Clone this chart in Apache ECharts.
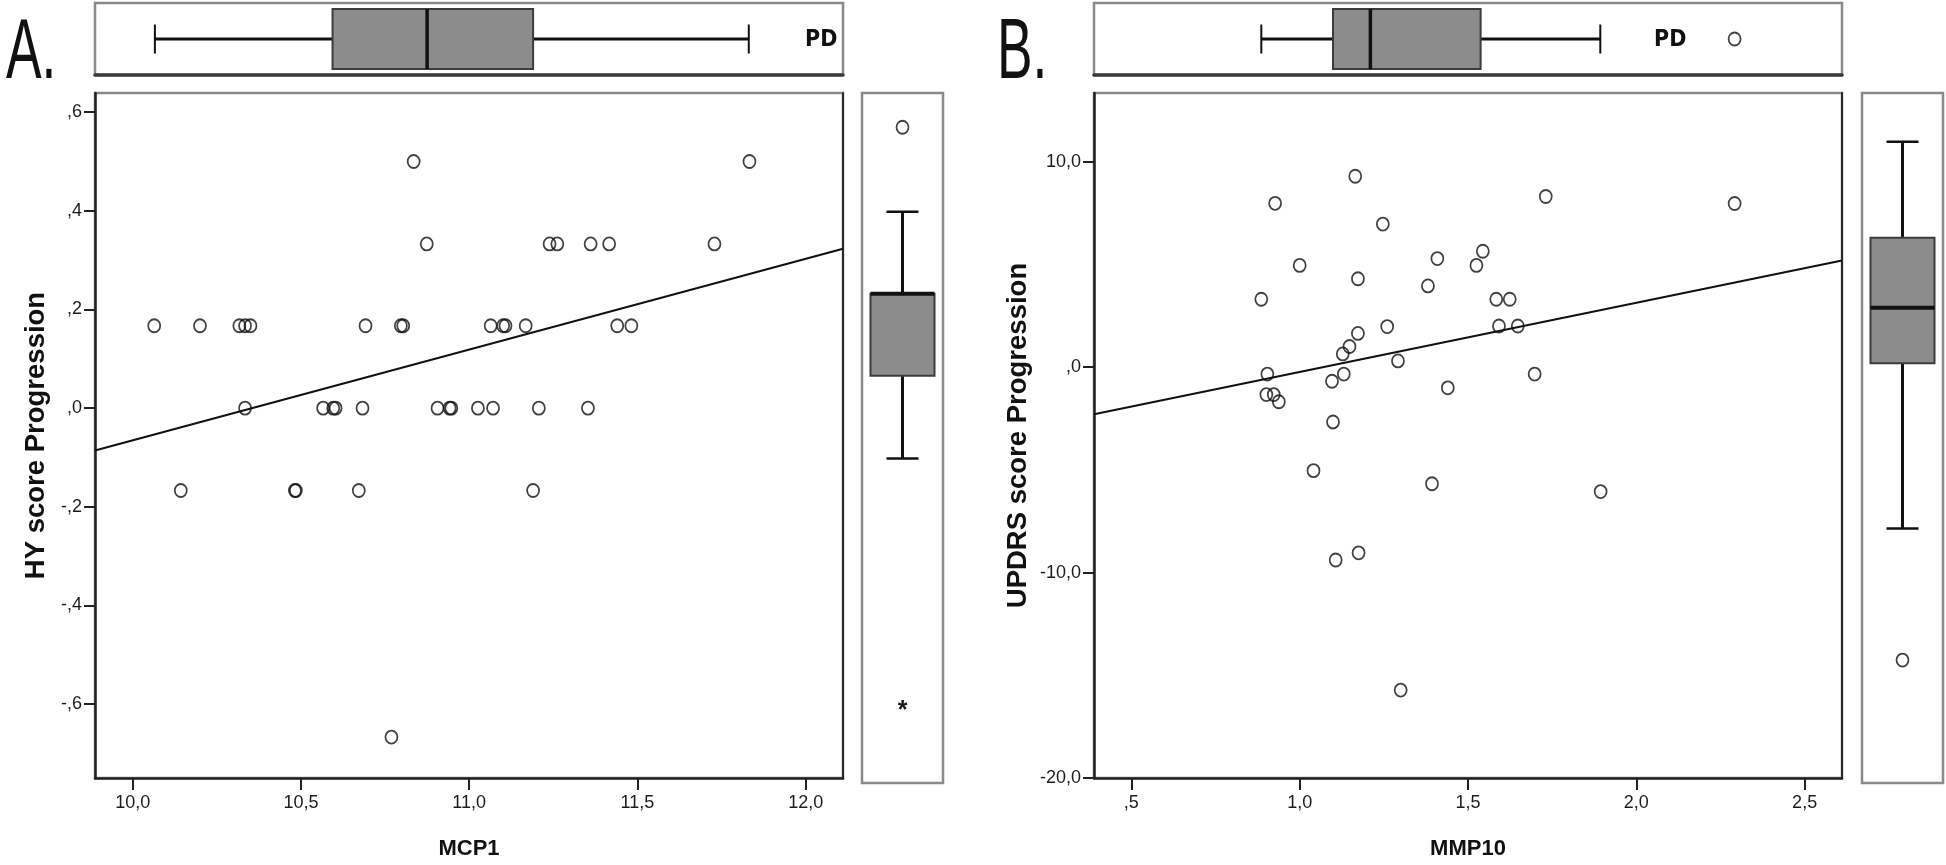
<!DOCTYPE html>
<html><head><meta charset="utf-8">
<script src="https://cdn.jsdelivr.net/npm/echarts@6/dist/echarts.min.js"></script>
<style>html,body{margin:0;padding:0;background:#fff}#c{width:1946px;height:865px}</style>
</head><body><div id="c"></div>
<script>
// ---------- data ----------
// Panel A: MCP1 vs HY score Progression
const mcp1 = [10.064,10.200,10.317,10.334,10.350,10.692,10.797,10.804,11.064,11.101,11.108,11.168,11.440,11.482,
              10.334,10.566,10.596,10.603,10.683,10.906,10.942,10.947,11.026,11.071,11.207,11.353,
              10.874,11.239,11.262,11.361,11.416,11.729,
              10.835,11.833,
              10.143,10.482,10.485,10.672,11.190,
              10.769];
const hyProgression = [0.167,0.167,0.167,0.167,0.167,0.167,0.167,0.167,0.167,0.167,0.167,0.167,0.167,0.167,
              0,0,0,0,0,0,0,0,0,0,0,0,
              0.333,0.333,0.333,0.333,0.333,0.333,
              0.5,0.5,
              -0.167,-0.167,-0.167,-0.167,-0.167,
              -0.667];
const fitA = [[9.888,-0.086],[12.111,0.323]];
const boxMcp1 = [10.066,10.594,10.875,11.190,11.831];
const boxHy = [-0.097,0.070,0.235,0.235,0.400];
const hyOutliers = [0.57];
const hyExtremes = [-0.60];

// Panel B: MMP10 vs UPDRS score Progression
const mmp10 = [1.165,0.927,1.247,1.000,1.409,1.525,1.544,1.173,1.381,0.886,1.584,1.624,1.260,1.592,1.648,1.173,
               1.148,1.128,1.292,0.904,1.131,1.698,1.096,0.901,0.923,0.938,1.440,1.099,1.041,1.393,1.894,1.107,
               1.175,1.300,1.731,2.292];
const updrsProgression = [9.29,7.97,6.96,4.95,5.28,4.95,5.64,4.30,3.95,3.30,3.30,3.30,1.97,2.00,2.00,1.64,
               1.00,0.64,0.30,-0.34,-0.34,-0.34,-0.69,-1.34,-1.34,-1.69,-1.01,-2.67,-5.04,-5.68,-6.06,-9.39,
               -9.04,-15.72,8.30,7.96];
const fitB = [[0.389,-2.30],[2.611,5.19]];
const boxMmp10 = [0.886,1.099,1.210,1.5375,1.893];
const mmp10Outliers = [2.292];
const boxUpdrs = [-7.70,0.28,2.96,6.35,10.99];
const updrsOutliers = [-14.06];

// axes
const rangeMcp1 = [9.888,12.111], rangeHy = [-0.75,0.639];
const rangeMmp10 = [0.389,2.611], rangeUpdrs = [-20,13.34];
const ticksMcp1 = [10,10.5,11,11.5,12];
const ticksHy = [-0.6,-0.4,-0.2,0,0.2,0.4,0.6];
const ticksMmp10 = [0.5,1,1.5,2,2.5];
const ticksUpdrs = [-20,-10,0,10];
const panelLabels = ['A.','B.'];
const groupLabel = 'PD';

// ---------- helpers ----------
function spss(v){
  let s = Math.abs(v).toFixed(1).replace('.',',');
  if (s.startsWith('0,')) s = s.slice(1);
  return (v < 0 ? '-' : '') + s;
}
const FONT = '"Liberation Sans", Arial, sans-serif';
const INK = '#111';
const LBL = '#1c1c1c';

function valueAxis(gi, range, ticks, extra){
  return Object.assign({
    type:'value', gridIndex:gi, min:range[0], max:range[1],
    axisLine:{show:true, onZero:false, lineStyle:{color:'#222', width:2.5}},
    axisTick:{show:true, customValues:ticks, length:11, lineStyle:{color:'#222', width:2}},
    axisLabel:{show:true, customValues:ticks, formatter:spss, color:LBL, fontSize:18, fontFamily:FONT, margin:13},
    splitLine:{show:false}
  }, extra||{});
}
function hiddenAxis(gi, range, extra){
  return Object.assign({
    type:'value', gridIndex:gi, min:range[0], max:range[1],
    axisLine:{show:false}, axisTick:{show:false}, axisLabel:{show:false}, splitLine:{show:false}
  }, extra||{});
}

function hBox(params, api){
  const v = [0,1,2,3,4].map(i => api.value(i));
  const p = v.map(x => api.coord([x, 0.5]));
  const cy = p[0][1], bh = 30, ch = 14.5;
  const wl = {stroke:INK, lineWidth:3};
  return {type:'group', children:[
    {type:'line', shape:{x1:p[0][0],y1:cy,x2:p[1][0],y2:cy}, style:wl},
    {type:'line', shape:{x1:p[3][0],y1:cy,x2:p[4][0],y2:cy}, style:wl},
    {type:'line', shape:{x1:p[0][0],y1:cy-ch,x2:p[0][0],y2:cy+ch}, style:{stroke:INK,lineWidth:2}},
    {type:'line', shape:{x1:p[4][0],y1:cy-ch,x2:p[4][0],y2:cy+ch}, style:{stroke:INK,lineWidth:2}},
    {type:'rect', shape:{x:p[1][0], y:cy-bh, width:p[3][0]-p[1][0], height:2*bh}, style:{fill:'#8c8c8c', stroke:'#3c3c3c', lineWidth:2}},
    {type:'line', shape:{x1:p[2][0],y1:cy-bh,x2:p[2][0],y2:cy+bh}, style:{stroke:INK,lineWidth:3.5}}
  ]};
}
function vBox(params, api){
  const v = [0,1,2,3,4].map(i => api.value(i));
  const p = v.map(y => api.coord([0.5, y]));
  const cx = p[0][0], bw = 32, cw = 16;
  const wl = {stroke:INK, lineWidth:3};
  return {type:'group', children:[
    {type:'line', shape:{x1:cx,y1:p[0][1],x2:cx,y2:p[1][1]}, style:wl},
    {type:'line', shape:{x1:cx,y1:p[3][1],x2:cx,y2:p[4][1]}, style:wl},
    {type:'line', shape:{x1:cx-cw,y1:p[0][1],x2:cx+cw,y2:p[0][1]}, style:{stroke:INK,lineWidth:2.5}},
    {type:'line', shape:{x1:cx-cw,y1:p[4][1],x2:cx+cw,y2:p[4][1]}, style:{stroke:INK,lineWidth:2.5}},
    {type:'rect', shape:{x:cx-bw, y:p[3][1], width:2*bw, height:p[1][1]-p[3][1]}, style:{fill:'#8c8c8c', stroke:'#3c3c3c', lineWidth:2}},
    {type:'line', shape:{x1:cx-bw,y1:p[2][1],x2:cx+bw,y2:p[2][1]}, style:{stroke:INK,lineWidth:4}}
  ]};
}
function starItem(params, api){
  const p = api.coord([api.value(0), api.value(1)]);
  return {type:'text', x:p[0], y:p[1] + 3, style:{text:'*', fill:'#1a1a1a', font:'bold 25px ' + FONT, align:'center', verticalAlign:'middle'}};
}

const circleStyle = {color:'rgba(0,0,0,0)', borderColor:INK, borderWidth:1.8};
function scatter(xi, yi, data){
  return {type:'scatter', xAxisIndex:xi, yAxisIndex:yi, data:data, symbol:'circle', symbolSize:[12,13],
          itemStyle:circleStyle, emphasis:{disabled:true}, silent:true, z:5};
}

const grids = [
  {left:95,  top:93, width:748, height:690},   // A main
  {left:95,  top:3,  width:748, height:72},    // A top box
  {left:862, top:93, width:81,  height:690},   // A right box
  {left:1094,top:93, width:748, height:690},   // B main
  {left:1094,top:3,  width:748, height:72},    // B top box
  {left:1862,top:93, width:81,  height:690}    // B right box
].map(g => Object.assign({show:true, borderColor:'#8a8a8a', borderWidth:2.5, backgroundColor:'#fff'}, g));

const nameStyle = {fontWeight:'bold', fontSize:22, color:INK, fontFamily:FONT};
const yNameStyle = {fontWeight:'bold', fontSize:27.5, color:INK, fontFamily:FONT};
const xLabel = ticks => ({customValues:ticks, formatter:spss, color:LBL, fontSize:18, fontFamily:FONT, margin:16});
const xTick = ticks => ({customValues:ticks, length:12, lineStyle:{color:'#222', width:2}});

const option = {
  animation:false,
  backgroundColor:'#fff',
  grid: grids,
  xAxis: [
    valueAxis(0, rangeMcp1, ticksMcp1, {name:'MCP1', nameLocation:'middle', nameGap:60, nameTextStyle:nameStyle, axisLabel:xLabel(ticksMcp1), axisTick:xTick(ticksMcp1)}),
    hiddenAxis(1, rangeMcp1, {axisLine:{show:true, lineStyle:{color:'#3a3a3a', width:3.5}}}),
    hiddenAxis(2, [0,1]),
    valueAxis(3, rangeMmp10, ticksMmp10, {name:'MMP10', nameLocation:'middle', nameGap:60, nameTextStyle:nameStyle, axisLabel:xLabel(ticksMmp10), axisTick:xTick(ticksMmp10)}),
    hiddenAxis(4, rangeMmp10, {axisLine:{show:true, lineStyle:{color:'#3a3a3a', width:3.5}}}),
    hiddenAxis(5, [0,1])
  ],
  yAxis: [
    valueAxis(0, rangeHy, ticksHy, {name:'HY score Progression', nameLocation:'middle', nameGap:45, nameTextStyle:yNameStyle}),
    hiddenAxis(1, [0,1]),
    hiddenAxis(2, rangeHy),
    valueAxis(3, rangeUpdrs, ticksUpdrs, {name:'UPDRS score Progression', nameLocation:'middle', nameGap:62, nameTextStyle:yNameStyle}),
    hiddenAxis(4, [0,1]),
    hiddenAxis(5, rangeUpdrs),
    hiddenAxis(0, rangeHy, {position:'right', axisLine:{show:true, lineStyle:{color:'#2a2a2a', width:2}}}),
    hiddenAxis(3, rangeUpdrs, {position:'right', axisLine:{show:true, lineStyle:{color:'#2a2a2a', width:2}}})
  ],
  series: [
    scatter(0, 0, mcp1.map((x,i) => [x, hyProgression[i]])),
    {type:'line', xAxisIndex:0, yAxisIndex:0, data:fitA, showSymbol:false, lineStyle:{color:INK, width:2}, silent:true, z:4},
    {type:'custom', xAxisIndex:1, yAxisIndex:1, data:[boxMcp1], renderItem:hBox, silent:true},
    {type:'custom', xAxisIndex:2, yAxisIndex:2, data:[boxHy], renderItem:vBox, silent:true,
      encode:{x:[], y:[0,1,2,3,4]}},
    scatter(2, 2, hyOutliers.map(v => [0.5, v])),
    {type:'custom', xAxisIndex:2, yAxisIndex:2, data:hyExtremes.map(v => [0.5, v]), renderItem:starItem, silent:true},

    scatter(3, 3, mmp10.map((x,i) => [x, updrsProgression[i]])),
    {type:'line', xAxisIndex:3, yAxisIndex:3, data:fitB, showSymbol:false, lineStyle:{color:INK, width:2}, silent:true, z:4},
    {type:'custom', xAxisIndex:4, yAxisIndex:4, data:[boxMmp10], renderItem:hBox, silent:true},
    scatter(4, 4, mmp10Outliers.map(v => [v, 0.5])),
    {type:'custom', xAxisIndex:5, yAxisIndex:5, data:[boxUpdrs], renderItem:vBox, silent:true,
      encode:{x:[], y:[0,1,2,3,4]}},
    scatter(5, 5, updrsOutliers.map(v => [0.5, v]))
  ],
  graphic: [
    {type:'text', x:6, y:54, scaleX:0.62, style:{text:panelLabels[0], font:'86px "Liberation Sans", sans-serif', fill:INK, align:'left', verticalAlign:'middle'}},
    {type:'text', x:997, y:54, scaleX:0.62, style:{text:panelLabels[1], font:'86px "Liberation Sans", sans-serif', fill:INK, align:'left', verticalAlign:'middle'}},
    {type:'text', x:805, y:40, style:{text:groupLabel, font:'bold 23px "DejaVu Sans Condensed", "Liberation Sans Narrow", sans-serif', fill:INK, align:'left', verticalAlign:'middle'}},
    {type:'text', x:1654, y:40, style:{text:groupLabel, font:'bold 23px "DejaVu Sans Condensed", "Liberation Sans Narrow", sans-serif', fill:INK, align:'left', verticalAlign:'middle'}}
  ]
};
echarts.init(document.getElementById('c')).setOption(option);
</script>
</body></html>
